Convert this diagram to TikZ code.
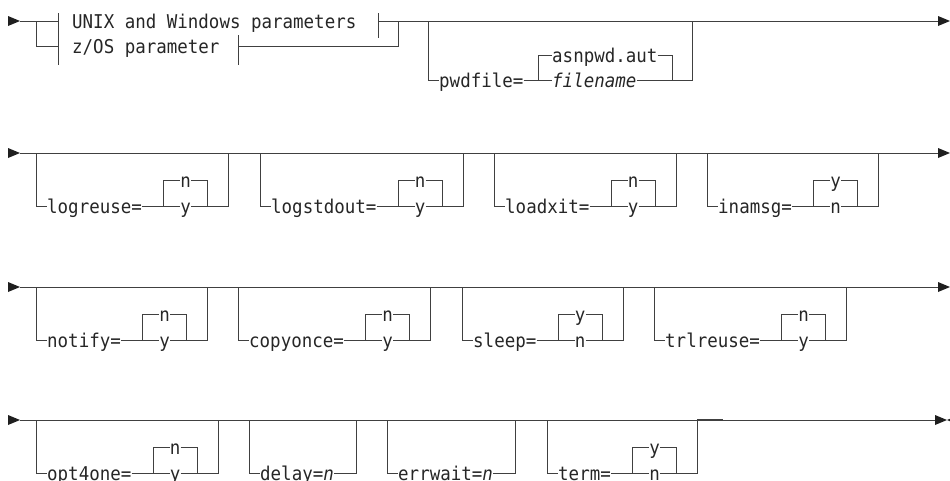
\documentclass[tikz,border=0pt]{standalone}
\usepackage{fontspec}
\setmonofont{DejaVu Sans Mono}[FakeStretch=0.92]
\usetikzlibrary{calc,positioning}
\tikzset{
    rail/.style={
    draw=black!75,line width=1pt
    },
    kw/.style={
    inner sep=0pt,anchor=west,text height=14pt,text depth=0pt,
    font=\ttfamily\fontsize{19}{22}\selectfont,text=black!85
    },
    railtip/.style={
    fill=black!88
    },
}
\begin{document}
\begin{tikzpicture}[x=1pt,y=-1pt]
  \useasboundingbox (0,0) rectangle (950,480);
  % row 1: fragment choice and pwdfile
  \coordinate (s1) at (20,21);
  \coordinate (f1) at (36,21);
  \coordinate (fbar) at (58,21);
  \node[kw] (unix) at (72,21) {UNIX and Windows parameters};
  \node[kw] (zos) at (72,46.5) {z/OS parameter};
  \coordinate (ubar) at (378,21);
  \coordinate (zbar) at (238,46.5);
  \coordinate (j1) at (398,21);
  \coordinate (t1) at (950,21);
  \draw[rail] (s1) -- (fbar);
  \draw[rail] (f1) |- (fbar |- zos.west);
  \draw[rail] (58,13) -- (58,65);
  \draw[rail] (378,13) -- (378,38);
  \draw[rail] (238,35) -- (238,65);
  \draw[rail] (ubar) -- ($(t1)+(-10,0)$);
  \draw[rail] (zbar) -| (j1);
  \fill[railtip] (s1) -- ++(-12,-5) -- ++(0,10) -- cycle;
  \fill[railtip] (t1) -- ++(-12,-5) -- ++(0,10) -- cycle;

  \coordinate (pwdl) at (428,21);
  \node[kw] (pwd) at (439,80) {pwdfile=};
  \coordinate (pwdc) at (538,80);
  \node[kw] (asn) at (552,55) {asnpwd.aut};
  \node[kw] (fname) at (552,80) {\itshape filename};
  \coordinate (pwde) at (672,80);
  \coordinate (pwdr) at (692,80);
  \draw[rail] (pwdl) |- (pwd.west);
  \draw[rail] (pwd.east) -- (fname.west);
  \draw[rail] (pwdc) |- (asn.west);
  \draw[rail] (asn.east) -| (pwde);
  \draw[rail] (fname.east) -- (pwdr) -- (pwdr |- pwdl);

  % rows 2-4: main lines
  \foreach \my/\tx [count=\r from 2] in {153/950,287/950,420/947}{
    \coordinate (s\r) at (20,\my);
    \coordinate (t\r) at (\tx,\my);
    \draw[rail] (s\r) -- ($(t\r)+(-10,0)$);
    \fill[railtip] (s\r) -- ++(-12,-5) -- ++(0,10) -- cycle;
    \fill[railtip] (t\r) -- ++(-12,-5) -- ++(0,10) -- cycle;
  }
  \fill[railtip] (t4) -- ++(12,-5) -- ++(0,10) -- cycle;
  \draw[rail,line width=2.6pt] (697,420) -- (723,420);

  % optional y/n keywords
  \foreach \lx/\my/\lbl/\ca/\cb [count=\i] in {
      36/153/logreuse=/n/y, 260/153/logstdout=/n/y, 494/153/loadxit=/n/y, 707/153/inamsg=/y/n,
      36/287/notify=/n/y, 238/287/copyonce=/n/y, 462/287/sleep=/y/n, 654/287/trlreuse=/n/y,
      36/420/opt4one=/n/y, 547/420/term=/y/n}{
    \coordinate (l\i) at (\lx,\my);
    \node[kw] (k\i) at (\lx+11,\my+53) {\lbl};
    \coordinate (c\i) at ($(k\i.east)+(21.5,0)$);
    \node[kw,anchor=center] (d\i) at ($(c\i)+(22,0)$) {\cb};
    \node[kw,anchor=center] (u\i) at ($(d\i)+(0,-26)$) {\ca};
    \coordinate (e\i) at ($(c\i)+(44,0)$);
    \coordinate (r\i) at ($(e\i)+(21,0)$);
    \draw[rail] (l\i) |- (k\i.west);
    \draw[rail] (k\i.east) -- (d\i.west);
    \draw[rail] (c\i) |- (u\i.west);
    \draw[rail] (u\i.east) -| (e\i);
    \draw[rail] (d\i.east) -- (r\i) -- (r\i |- l\i);
  }

  % row 4: numeric values
  \coordinate (dlyl) at (249,420);
  \node[kw] (dly) at (260,473) {delay=\textit{n}};
  \coordinate (dlyr) at (356,473);
  \draw[rail] (dlyl) |- (dly.west);
  \draw[rail] (dly.east) -- (dlyr) -- (dlyr |- dlyl);
  \coordinate (errl) at (387,420);
  \node[kw] (err) at (398,473) {errwait=\textit{n}};
  \coordinate (errr) at (515,473);
  \draw[rail] (errl) |- (err.west);
  \draw[rail] (err.east) -- (errr) -- (errr |- errl);
\end{tikzpicture}
\end{document}
